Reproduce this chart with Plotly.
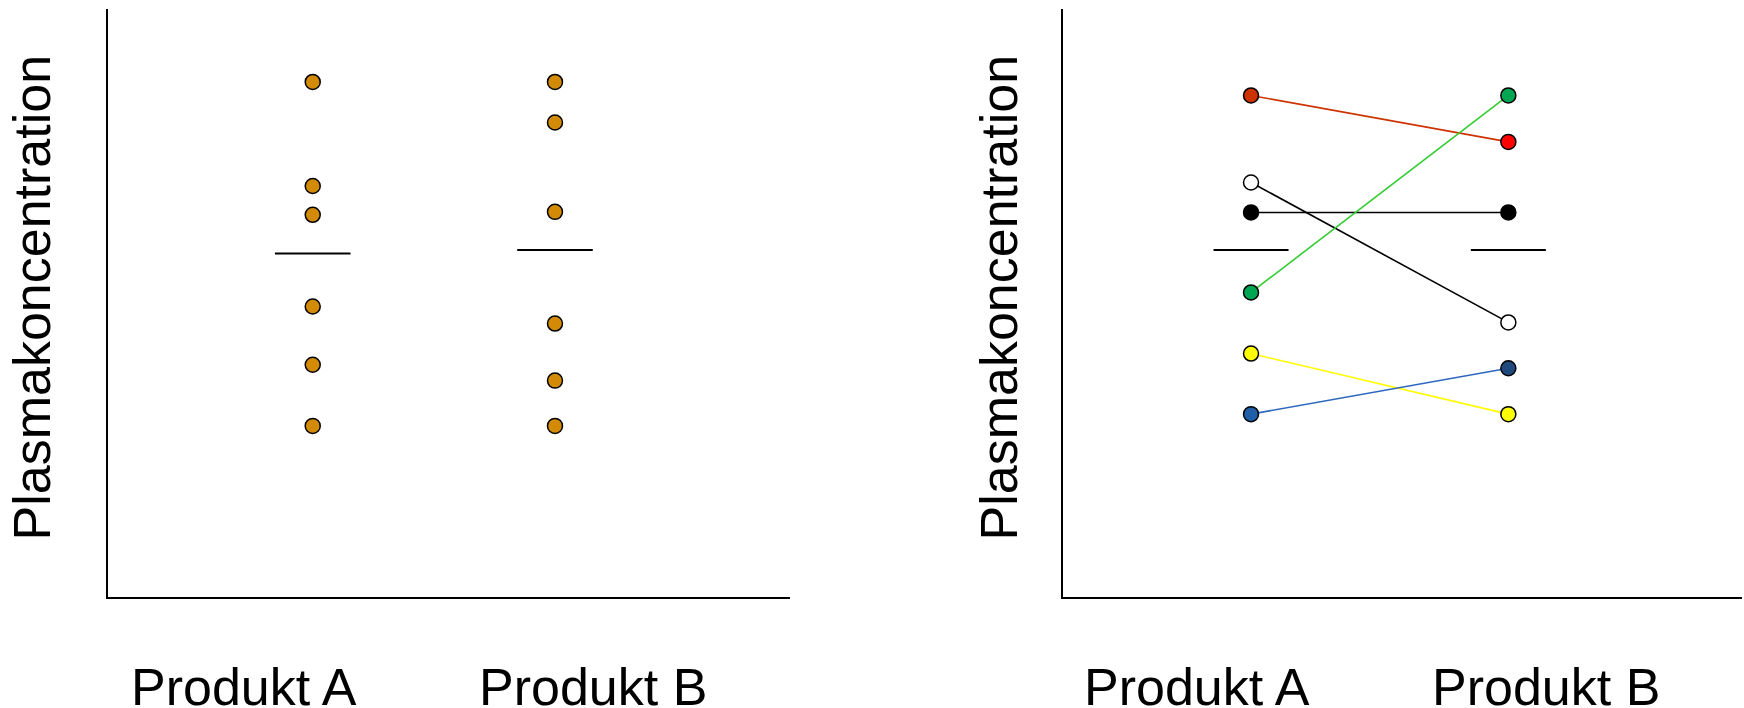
import plotly.graph_objects as go

# ---- data ----
categories = ["Produkt A", "Produkt B"]
y_title = "Plasmakoncentration"

# left panel: unpaired values
left_a = [87.6, 69.9, 65.0, 49.4, 39.5, 29.1]
left_b = [87.6, 80.7, 65.5, 46.5, 36.8, 29.1]
left_mean = [58.4, 59.0]

# right panel: paired values (subject i: A -> B)
right_a = [85.3, 70.5, 65.4, 51.8, 41.4, 31.1]
right_b = [77.4, 46.7, 65.4, 85.3, 31.1, 38.9]
right_mean = [59.0, 59.0]
marker_a_colors = ["#CC3300", "#FFFFFF", "#000000", "#00A651", "#FFFF00", "#1F5FA8"]
marker_b_colors = ["#FF0000", "#FFFFFF", "#000000", "#00A651", "#FFFF00", "#1F497D"]
line_colors = ["#CC3300", "#000000", "#000000", "#33CC33", "#FFFF00", "#2E68BE"]

W, H = 1744, 708
FONT = "Liberation Sans, Arial, sans-serif"
cat_x = [0, 1]

fig = go.Figure()

# left panel dots
for i, vals in enumerate([left_a, left_b]):
    fig.add_trace(go.Scatter(
        x=[cat_x[i]] * len(vals), y=vals, mode="markers",
        marker=dict(size=15, color="#D38B05", line=dict(color="black", width=1.5)),
        xaxis="x", yaxis="y", showlegend=False, hoverinfo="y"))

# right panel connecting lines
for a, b, lc in zip(right_a, right_b, line_colors):
    fig.add_trace(go.Scatter(
        x=cat_x, y=[a, b], mode="lines", line=dict(color=lc, width=1.6),
        xaxis="x2", yaxis="y2", showlegend=False, hoverinfo="skip"))
# right panel markers
fig.add_trace(go.Scatter(
    x=[cat_x[0]] * len(right_a), y=right_a, mode="markers",
    marker=dict(size=15, color=marker_a_colors, line=dict(color="black", width=1.5)),
    xaxis="x2", yaxis="y2", showlegend=False, hoverinfo="y"))
fig.add_trace(go.Scatter(
    x=[cat_x[1]] * len(right_b), y=right_b, mode="markers",
    marker=dict(size=15, color=marker_b_colors, line=dict(color="black", width=1.5)),
    xaxis="x2", yaxis="y2", showlegend=False, hoverinfo="y"))

# mean lines
half_left = 37.8 / 242.3
half_right = 37.5 / 257.3
shapes = []
for i, m in enumerate(left_mean):
    shapes.append(dict(type="line", xref="x", yref="y", x0=cat_x[i] - half_left, x1=cat_x[i] + half_left,
                       y0=m, y1=m, line=dict(color="black", width=2)))
for i, m in enumerate(right_mean):
    shapes.append(dict(type="line", xref="x2", yref="y2", x0=cat_x[i] - half_right, x1=cat_x[i] + half_right,
                       y0=m, y1=m, line=dict(color="black", width=2)))

# annotations (category labels + y titles)
def px(x):
    return x / W
def py(y):
    return (H - y) / H

annotations = []
label_centers = [(244, 0), (593, 1), (1197, 0), (1546, 1)]
for xc, ci in label_centers:
    annotations.append(dict(text=categories[ci], x=px(xc), y=py(687), xref="paper", yref="paper",
                            xanchor="center", yanchor="middle", showarrow=False,
                            font=dict(family=FONT, size=52, color="black")))
for xc in [31, 998]:
    annotations.append(dict(text=y_title, x=px(xc), y=py(297.5), xref="paper", yref="paper",
                            xanchor="center", yanchor="middle", textangle=-90, showarrow=False,
                            font=dict(family=FONT, size=52, color="black")))

axis_common = dict(showgrid=False, zeroline=False, showticklabels=False, ticks="",
                   showline=True, linecolor="black", linewidth=1.6, fixedrange=True)
ydom = [py(597), py(9)]

fig.update_layout(
    width=W, height=H,
    margin=dict(l=0, r=0, t=0, b=0),
    paper_bgcolor="white", plot_bgcolor="white",
    xaxis=dict(domain=[px(108), px(790)], range=[-0.845, 1.970], anchor="y", **axis_common),
    yaxis=dict(domain=ydom, range=[0, 100], anchor="x", **axis_common),
    xaxis2=dict(domain=[px(1063), px(1742)], range=[-0.7307, 1.908], anchor="y2", **axis_common),
    yaxis2=dict(domain=ydom, range=[0, 100], anchor="x2", **axis_common),
    shapes=shapes,
    annotations=annotations,
    showlegend=False,
)

fig.write_html(
    "out.html",
    config={"displayModeBar": False},
    post_script="document.body.style.margin='0px';document.body.style.overflow='hidden';",
)
